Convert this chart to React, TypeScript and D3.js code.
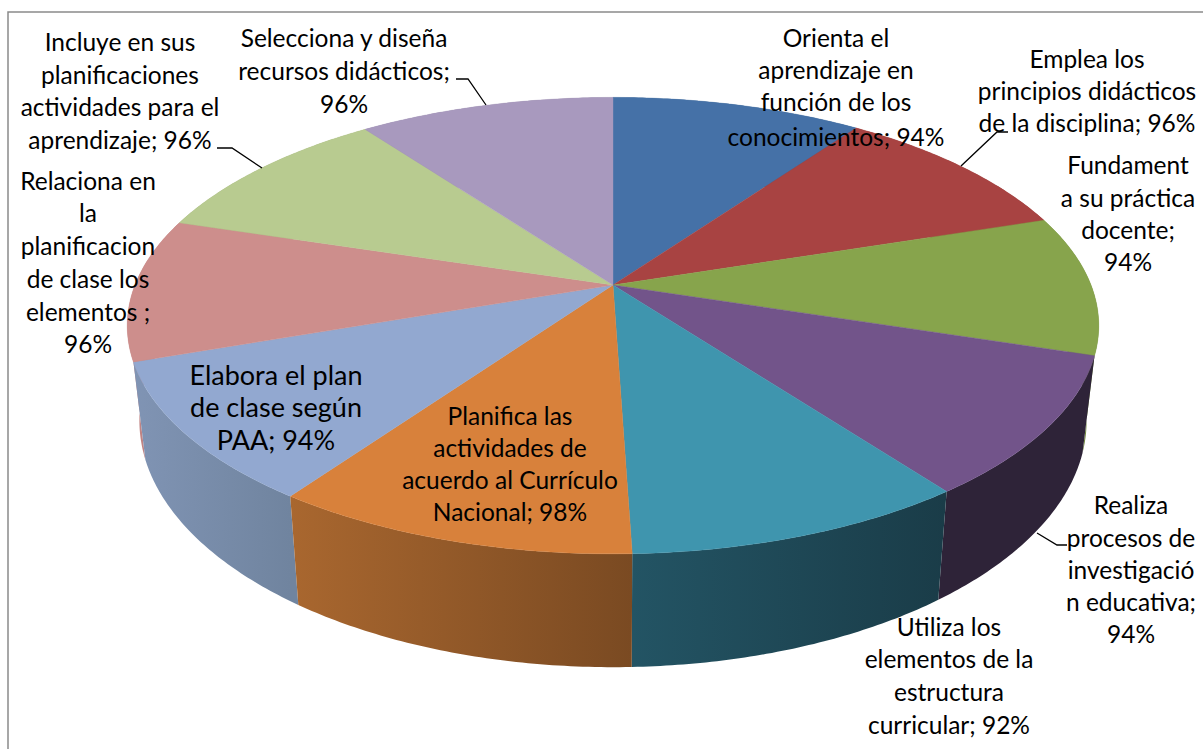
import React from "react";
import * as d3 from "d3";

const categories = [
  ["Orienta el", "aprendizaje en", "función de los", "conocimientos; 94%"],
  ["Emplea los", "principios didácticos", "de la disciplina; 96%"],
  ["Fundament", "a su práctica", "docente;", "94%"],
  ["Realiza", "procesos de", "investigació", "n educativa;", "94%"],
  ["Utiliza los", "elementos de la", "estructura", "curricular; 92%"],
  ["Planifica las", "actividades de", "acuerdo al Currículo", "Nacional; 98%"],
  ["Elabora el plan", "de clase según", "PAA; 94%"],
  ["Relaciona en", "la", "planificacion", "de clase los", "elementos ;", "96%"],
  ["Incluye en sus", "planificaciones", "actividades para el", "aprendizaje; 96%"],
  ["Selecciona y diseña", "recursos didácticos;", "96%"],
];
const values = [94, 96, 94, 94, 92, 98, 94, 96, 96, 96];

const topColors = ["#4571a7", "#a84342", "#87a44c", "#72548a", "#3f95ae", "#d8813b", "#92a8d0", "#cd8e8c", "#b8cb90", "#a899be"];
const wallFrom = ["#3a5f8c", "#8c3837", "#71893f", "#2e2338", "#235464", "#a9672f", "#8094b4", "#c08484", "#9aaa78", "#8c80a0"];
const wallTo = ["#3a5f8c", "#8c3837", "#71893f", "#2e2338", "#1a3c48", "#7a4a22", "#70849f", "#c08484", "#9aaa78", "#8c80a0"];

// layout of the labels: centre x, the y centre of each line, and the font size
const labelX = [836, 1087, 1128, 1131, 949, 510, 276, 88, 120, 344];
const labelY = [
  [38, 70, 102, 137],
  [59, 91, 123],
  [165, 198, 230, 262],
  [505, 538, 570, 602, 634],
  [627, 659, 692, 725],
  [416, 448, 480, 512],
  [376, 408, 441],
  [181, 213, 246, 279, 312, 344],
  [42, 75, 107, 140],
  [38, 71, 104],
];
const labelSize = [24.5, 24.5, 24.5, 24.5, 24.5, 24.5, 27, 24.5, 24.5, 24.5];
const leaders: [number, number][][] = [
  [[217, 148], [232, 148], [262, 168]],
  [[456, 79], [468, 79], [486, 105]],
  [[1008, 132], [997, 132], [961, 166]],
  [[1037, 533], [1057, 545], [1067, 545]],
];

const CX = 613, CY = 285, A = 221, B = 478, K = 0.178;
const top = (a: number): [number, number] => {
  const u = Math.sin(a), v = Math.cos(a);
  const w = 1 + K * v;
  return [CX + (B * u) / w, CY - (A * v) / w];
};
const bottom = (a: number): [number, number] => {
  const [x, y] = top(a);
  return [CX + (x - CX) * 0.975, 1.08 * y + 69];
};
const line = d3.line();

export default function App() {
  const arcs = d3.pie<number>().sort(null)(values);
  const sample = (s: number, e: number) => d3.range(0, 61).map((i) => s + ((e - s) * i) / 60);
  const slices = arcs.map((d, i) => {
    const as = sample(d.startAngle, d.endAngle);
    const t = as.map(top);
    const b = as.map(bottom);
    return {
      i,
      face: line([[CX, CY], ...t])! + "Z",
      wall: line([...t, ...[...b].reverse()])! + "Z",
      x0: Math.min(t[0][0], t[60][0]),
      x1: Math.max(t[0][0], t[60][0]),
      depth: Math.cos((d.startAngle + d.endAngle) / 2),
    };
  });
  const wallOrder = [...slices].sort((p, q) => q.depth - p.depth);
  return (
    <svg width={1203} height={749} style={{ position: "absolute", left: 0, top: 0, background: "#fff" }}>
      <defs>
        {slices.map((s) => (
          <linearGradient key={s.i} id={`w${s.i}`} gradientUnits="userSpaceOnUse" x1={s.x0} x2={s.x1} y1={0} y2={0}>
            <stop offset="0" stopColor={wallFrom[s.i]} />
            <stop offset="1" stopColor={wallTo[s.i]} />
          </linearGradient>
        ))}
      </defs>
      <path d="M8 749V12H1203" fill="none" stroke="#8a8a8a" strokeWidth={1.5} />
      {wallOrder.map((s) => (
        <path key={s.i} d={s.wall} fill={`url(#w${s.i})`} />
      ))}
      {slices.map((s) => (
        <path key={s.i} d={s.face} fill={topColors[s.i]} stroke={topColors[s.i]} strokeWidth={0.4} />
      ))}
      {leaders.map((l, i) => (
        <path key={i} d={line(l)!} fill="none" stroke="#000" strokeWidth={1.3} />
      ))}
      <g fontFamily="Lato" fill="#000" textAnchor="middle">
        {categories.map((lines, i) =>
          lines.map((t, j) => (
            <text key={`${i}-${j}`} x={labelX[i]} y={labelY[i][j] + 8.5} fontSize={labelSize[i]}>
              {t}
            </text>
          ))
        )}
      </g>
    </svg>
  );
}
